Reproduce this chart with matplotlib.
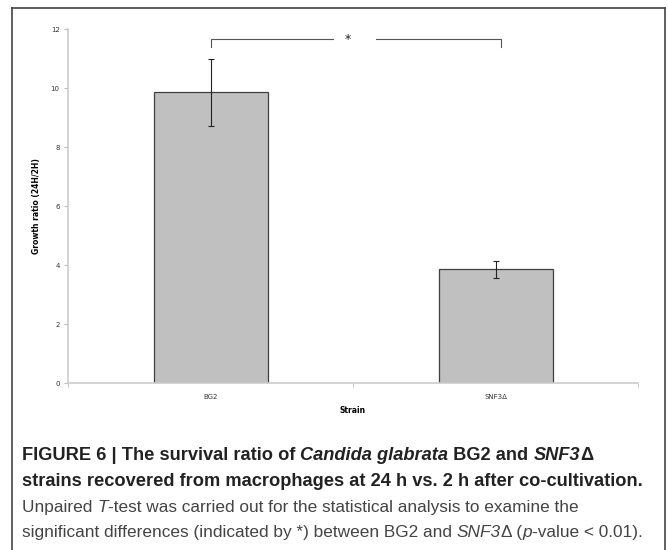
import matplotlib
matplotlib.use("Agg")
import matplotlib.pyplot as plt
from matplotlib.lines import Line2D

strains = ["BG2", "SNF3\u0394"]
growth_ratio = [9.86, 3.86]
errors = [1.13, 0.29]
yticks = [0, 2, 4, 6, 8, 10, 12]
sig_label = "*"

fig = plt.figure(figsize=(6.68, 5.5), dpi=100)
ax = fig.add_axes([68/668, 1-383.3/550, (638-68)/668, (383.3-29)/550])

x = list(range(len(strains)))
ax.bar(x, growth_ratio, width=0.4, color="#c0c0c0", edgecolor="#404040", linewidth=0.9, zorder=2)
ax.errorbar(x, growth_ratio, yerr=errors, fmt="none", ecolor="#222222", elinewidth=0.8,
            capsize=2, capthick=0.8, zorder=3)

ax.set_xlim(-0.5, 1.5)
ax.set_ylim(0, 12)
ax.set_yticks(yticks)
ax.set_yticklabels([str(v) for v in yticks], fontsize=5, color="#333333")
ax.set_xticks(x)
ax.set_xticklabels(strains, fontsize=5, color="#333333")
ax.set_xticks([-0.5, 0.5, 1.5], minor=True)
ax.tick_params(axis="x", which="major", length=0, pad=8)
ax.tick_params(axis="x", which="minor", length=3, color="#bbbbbb", direction="out")
ax.tick_params(axis="y", which="major", length=3, color="#bbbbbb", direction="out", pad=3)
for s in ["top", "right"]:
    ax.spines[s].set_visible(False)
for s in ["left", "bottom"]:
    ax.spines[s].set_color("#cccccc")
    ax.spines[s].set_linewidth(1.2)

ax.set_ylabel("Growth ratio (24H/2H)", fontsize=5.5, fontweight="bold", labelpad=7)
ax.set_xlabel("Strain", fontsize=5.5, fontweight="bold", labelpad=4)

# significance bracket
yb, yd = 11.66, 11.39
ax.plot([x[0], x[0], 0.43], [yd, yb, yb], color="#555555", lw=0.8, clip_on=False)
ax.plot([0.58, x[1] + 0.02, x[1] + 0.02], [yb, yb, yd], color="#555555", lw=0.8, clip_on=False)
ax.text(0.48, yb, sig_label, ha="center", va="center", fontsize=9, color="#222222")

# outer frame
fig.add_artist(Line2D([12/668, 12/668], [0, 1-8/550], color="#444444", lw=1.2, transform=fig.transFigure))
fig.add_artist(Line2D([12/668, 665/668], [1-8/550, 1-8/550], color="#444444", lw=1.2, transform=fig.transFigure))
fig.add_artist(Line2D([665/668, 665/668], [0, 1-8/550], color="#444444", lw=1.2, transform=fig.transFigure))

# caption built from runs
renderer = fig.canvas.get_renderer()
X0 = 22

def runs(y_px, parts, size, family, weight, color, draw=True):
    xpos = X0
    made = []
    for txt, style in parts:
        t = fig.text(xpos/668, 1-y_px/550, txt, fontsize=size, family=family, fontweight=weight,
                     style=style, va="baseline", ha="left", color=color)
        bb = t.get_window_extent(renderer=renderer)
        xpos += bb.width
        made.append(t)
    if not draw:
        for t in made:
            t.remove()
    return xpos

bold_fam = ["Liberation Sans", "DejaVu Sans"]
reg_fam = ["Liberation Sans", "DejaVu Sans"]

line1 = [("FIGURE 6 | The survival ratio of ", "normal"), ("Candida glabrata", "italic"),
         (" BG2 and ", "normal"), ("SNF3", "italic"), ("\u0394", "normal")]
line2 = [("strains recovered from macrophages at 24 h vs. 2 h after co-cultivation.", "normal")]
line3 = [("Unpaired ", "normal"), ("T", "italic"),
         ("-test was carried out for the statistical analysis to examine the", "normal")]
line4 = [("significant differences (indicated by *) between BG2 and ", "normal"), ("SNF3", "italic"),
         ("\u0394 (", "normal"), ("p", "italic"), ("-value < 0.01).", "normal")]

# fit sizes to the caption's measured line widths
bsize = 11.0
w = runs(486, line2, bsize, bold_fam, "bold", "#222222", draw=False) - X0
bsize = bsize * (645 - X0) / w
rsize = 12.0
w = runs(537, line4, rsize, reg_fam, "normal", "#333333", draw=False) - X0
rsize = rsize * (643 - X0) / w

runs(460, line1, bsize, bold_fam, "bold", "#222222")
runs(486, line2, bsize, bold_fam, "bold", "#222222")
runs(512, line3, rsize, reg_fam, "normal", "#444444")
runs(537, line4, rsize, reg_fam, "normal", "#444444")

fig.savefig("out.png", dpi=100)
